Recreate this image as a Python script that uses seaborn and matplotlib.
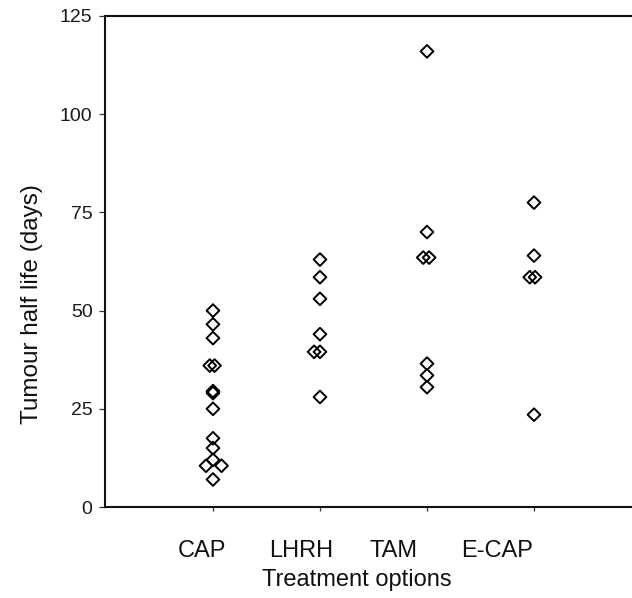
import matplotlib
matplotlib.use("Agg")
import matplotlib.pyplot as plt
import numpy as np
import pandas as pd
import seaborn as sns

# Tumour half life (days) per patient, grouped by treatment
treatments = ["CAP", "LHRH", "TAM", "E-CAP"]
cap_days = [50, 46.5, 43, 36, 36, 29.5, 29, 25, 17.5, 15, 12, 10.5, 10.5, 7]
lhrh_days = [63, 58.5, 53, 44, 39.5, 39.5, 28]
tam_days = [116, 70, 63.5, 63.5, 36.5, 33.5, 30.5]
ecap_days = [77.5, 64, 58.5, 58.5, 23.5]

# small horizontal spread so that tied values stay visible
cap_spread = [0, 0, 0, -0.03, 0.015, 0, 0, 0, 0, 0, 0, -0.065, 0.08, 0]
lhrh_spread = [0, 0, 0, 0, -0.055, 0, 0]
tam_spread = [0, 0, 0.02, -0.035, 0, 0, 0]
ecap_spread = [0, 0, 0.01, -0.04, 0]

yticks = [0, 25, 50, 75, 100, 125]

groups = [cap_days, lhrh_days, tam_days, ecap_days]
spreads = [cap_spread, lhrh_spread, tam_spread, ecap_spread]
rows = []
for name, vals, offs in zip(treatments, groups, spreads):
    for v, o in zip(vals, offs):
        rows.append({"treatment": name, "days": v, "spread": o})
df = pd.DataFrame(rows)
df["treatment"] = pd.Categorical(df["treatment"], categories=treatments)
df["xpos"] = df["treatment"].cat.codes + df["spread"]

sns.set_style("white")
plt.rcParams["font.family"] = ["Liberation Sans", "DejaVu Sans"]

fig = plt.figure(figsize=(6.32, 5.98), dpi=100)
ax = fig.add_axes([105 / 632, 91 / 598, 536 / 632, 491 / 598])

sns.scatterplot(data=df, x="xpos", y="days", marker="D", s=42,
                facecolor="none", edgecolor="black", linewidth=1.4,
                legend=False, ax=ax)
ax.collections[0].set_facecolor("none")
ax.collections[0].set_edgecolor("black")

ax.set_xlim(-1.009, 4.0)
ax.set_ylim(0, 125)
ax.set_yticks(yticks)
ax.set_yticklabels([str(t) for t in yticks], fontsize=14, color="#1a1a1a")
ax.set_xticks(range(len(treatments)))
ax.set_xticklabels([])

# category captions sit below the axis, slightly left of their tick marks
label_shift_pt = [-8, -13.5, -24, -26.5]
for i, (name, dx) in enumerate(zip(treatments, label_shift_pt)):
    ax.annotate(name, xy=(i, 0), xycoords=("data", "axes fraction"),
                xytext=(dx, -24), textcoords="offset points",
                ha="center", va="top", fontsize=17, color="#111111",
                annotation_clip=False)

ax.tick_params(axis="y", direction="out", length=4, width=0.9, pad=5,
               color="#333333", left=True)
ax.tick_params(axis="x", direction="out", length=3, width=0.9,
               color="#333333", bottom=True)

for side in ["left", "bottom", "top", "right"]:
    ax.spines[side].set_visible(True)
    ax.spines[side].set_color("#111111")
    ax.spines[side].set_linewidth(1.5)

ax.set_xlabel("Treatment options", fontsize=17, color="#111111")
ax.set_ylabel("Tumour half life (days)", fontsize=17.5, color="#111111")
ax.xaxis.set_label_coords(0.470, -0.127)
ax.yaxis.set_label_coords(-0.115, 0.413)

fig.savefig("out.png", dpi=100)
